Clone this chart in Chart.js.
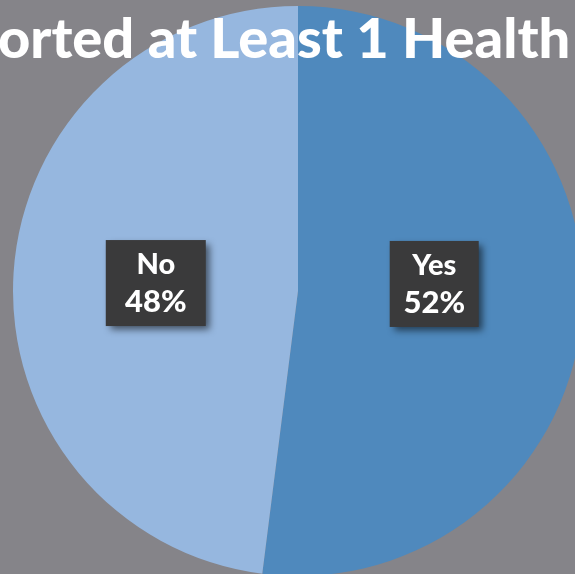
<!doctype html>
<html lang="en">
  <head>
    <meta charset="utf-8">
    <title>Reported at Least 1 Health Problem</title>
    <style>
      * {
        margin: 0;
        padding: 0;
      }
      body {
        width: 575px;
        height: 574px;
        overflow: hidden;
        background: #858489;
      }
      .chartBox {
        position: absolute;
        left: 0;
        top: 0;
        width: 600px;
        height: 600px;
      }
    </style>
  </head>
  <body>
    <div class="chartBox">
      <canvas id="myChart"></canvas>
    </div>
    <script src="https://cdn.jsdelivr.net/npm/chart.js/dist/chart.umd.min.js"></script>
    <script>
    // setup
    const titleText = 'Reported at Least 1 Health Problem';
    const hiddenPrefix = 'Rep';
    const categories = ['Yes', 'No'];
    const shares = [52, 48];
    const sliceColors = ['#4f89bd', '#96b7df'];

    // title drawn over the pie, cropped at the left like the original
    const titlePlugin = {
      id: 'croppedTitle',
      afterDraw(chart) {
        const ctx = chart.ctx;
        ctx.save();
        ctx.font = '900 56px Lato';
        ctx.fillStyle = '#ffffff';
        ctx.textBaseline = 'alphabetic';
        const skip = ctx.measureText(hiddenPrefix).width;
        ctx.fillText(titleText, -2 - skip, 58);
        ctx.restore();
      }
    };

    // dark label boxes with category and percentage
    const boxLabels = {
      id: 'boxLabels',
      afterDatasetsDraw(chart, args, opts) {
        const ctx = chart.ctx;
        const meta = chart.getDatasetMeta(0);
        meta.data.forEach((arc, i) => {
          const p = arc.getCenterPoint();
          const x = p.x + (opts.shiftX[i] || 0);
          const y = p.y + (opts.shiftY[i] || 0);
          const w = opts.widths[i], h = 86;
          ctx.save();
          ctx.shadowColor = 'rgba(0,0,0,0.55)';
          ctx.shadowBlur = 7;
          ctx.shadowOffsetX = 4;
          ctx.shadowOffsetY = 4;
          ctx.fillStyle = '#3a3a3b';
          ctx.fillRect(x - w / 2, y - h / 2, w, h);
          ctx.restore();
          ctx.save();
          ctx.fillStyle = '#ffffff';
          ctx.textAlign = 'center';
          ctx.textBaseline = 'middle';
          ctx.font = '900 29px Lato';
          ctx.fillText(chart.data.labels[i], x, y - 18);
          ctx.font = '900 31px Lato';
          ctx.fillText(chart.data.datasets[0].data[i] + '%', x, y + 19);
          ctx.restore();
        });
      }
    };

    const data = {
      labels: categories,
      datasets: [{
        data: shares,
        backgroundColor: sliceColors,
        borderWidth: 0
      }]
    };

    // config
    const config = {
      type: 'pie',
      data,
      options: {
        responsive: true,
        maintainAspectRatio: false,
        animation: false,
        layout: {
          padding: { left: 13, top: 6, right: 17, bottom: 24 }
        },
        plugins: {
          legend: { display: false },
          tooltip: { enabled: false },
          boxLabels: {
            shiftX: [-6, 0],
            shiftY: [-16, 1],
            widths: [89, 100]
          }
        }
      },
      plugins: [boxLabels, titlePlugin]
    };

    // render init block
    const myChart = new Chart(
      document.getElementById('myChart'),
      config
    );
    </script>
  </body>
</html>
